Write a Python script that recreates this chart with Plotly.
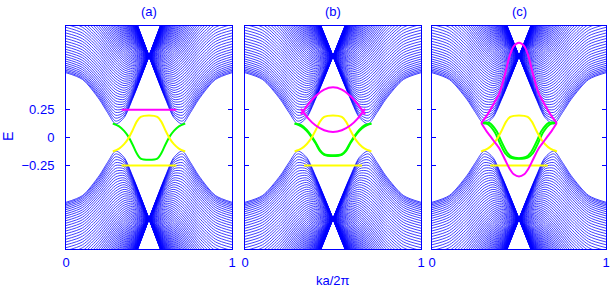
import plotly.graph_objects as go

# ---------------- data ----------------
# momentum samples on the left half of the zone (ka/2pi); the right half is the mirror image
K_HALF = [0.0, 0.1, 0.2, 0.25, 0.3, 0.35, 0.4, 0.45, 0.5]

# upper bulk sub-bands sampled on K_HALF (lower bulk bands are their mirror E -> -E)
BULK = [
    [2.014, 1.951, 1.768, 1.637, 1.483, 1.312, 1.125, 0.930, 0.73],
    [2.011, 1.948, 1.765, 1.634, 1.481, 1.310, 1.124, 0.929, 0.73],
    [2.008, 1.945, 1.762, 1.631, 1.478, 1.307, 1.122, 0.928, 0.73],
    [2.004, 1.941, 1.759, 1.628, 1.475, 1.304, 1.120, 0.926, 0.73],
    [1.999, 1.936, 1.754, 1.624, 1.471, 1.301, 1.117, 0.925, 0.73],
    [1.994, 1.931, 1.749, 1.619, 1.467, 1.297, 1.114, 0.923, 0.73],
    [1.988, 1.925, 1.744, 1.614, 1.463, 1.293, 1.111, 0.921, 0.73],
    [1.982, 1.919, 1.738, 1.609, 1.458, 1.289, 1.107, 0.919, 0.73],
    [1.975, 1.912, 1.732, 1.603, 1.452, 1.284, 1.104, 0.916, 0.73],
    [1.967, 1.905, 1.725, 1.596, 1.446, 1.279, 1.099, 0.914, 0.73],
    [1.959, 1.897, 1.718, 1.589, 1.440, 1.273, 1.095, 0.911, 0.73],
    [1.951, 1.889, 1.710, 1.582, 1.433, 1.267, 1.090, 0.908, 0.73],
    [1.941, 1.880, 1.701, 1.574, 1.425, 1.261, 1.085, 0.905, 0.73],
    [1.932, 1.870, 1.692, 1.565, 1.418, 1.254, 1.080, 0.902, 0.73],
    [1.921, 1.860, 1.683, 1.556, 1.409, 1.247, 1.074, 0.899, 0.73],
    [1.911, 1.850, 1.673, 1.547, 1.401, 1.239, 1.068, 0.895, 0.73],
    [1.899, 1.838, 1.662, 1.537, 1.392, 1.231, 1.062, 0.891, 0.73],
    [1.888, 1.827, 1.651, 1.527, 1.382, 1.223, 1.055, 0.887, 0.73],
    [1.875, 1.815, 1.640, 1.516, 1.372, 1.214, 1.049, 0.883, 0.73],
    [1.862, 1.802, 1.628, 1.505, 1.362, 1.205, 1.041, 0.879, 0.73],
    [1.849, 1.789, 1.616, 1.493, 1.351, 1.196, 1.034, 0.874, 0.73],
    [1.835, 1.775, 1.603, 1.481, 1.340, 1.186, 1.026, 0.870, 0.73],
    [1.820, 1.761, 1.589, 1.468, 1.328, 1.176, 1.018, 0.865, 0.73],
    [1.806, 1.746, 1.575, 1.455, 1.316, 1.166, 1.010, 0.860, 0.73],
    [1.790, 1.731, 1.561, 1.441, 1.304, 1.155, 1.002, 0.855, 0.73],
    [1.774, 1.715, 1.546, 1.427, 1.291, 1.143, 0.993, 0.850, 0.73],
    [1.758, 1.699, 1.531, 1.413, 1.278, 1.132, 0.984, 0.845, 0.73],
    [1.741, 1.683, 1.515, 1.398, 1.264, 1.120, 0.974, 0.839, 0.73],
    [1.724, 1.666, 1.499, 1.383, 1.250, 1.108, 0.965, 0.833, 0.73],
    [1.706, 1.648, 1.483, 1.367, 1.236, 1.095, 0.955, 0.828, 0.73],
    [1.687, 1.630, 1.466, 1.351, 1.221, 1.082, 0.945, 0.822, 0.73],
    [1.669, 1.612, 1.448, 1.334, 1.206, 1.069, 0.935, 0.816, 0.73],
    [1.650, 1.593, 1.430, 1.317, 1.190, 1.055, 0.924, 0.810, 0.73],
    [1.630, 1.574, 1.412, 1.300, 1.174, 1.042, 0.913, 0.803, 0.73],
    [1.610, 1.554, 1.394, 1.282, 1.158, 1.027, 0.902, 0.797, 0.73],
    [1.590, 1.534, 1.375, 1.264, 1.141, 1.013, 0.891, 0.791, 0.73],
    [1.569, 1.513, 1.355, 1.246, 1.124, 0.998, 0.880, 0.784, 0.73],
    [1.548, 1.492, 1.335, 1.227, 1.107, 0.983, 0.868, 0.778, 0.73],
    [1.526, 1.471, 1.315, 1.208, 1.089, 0.968, 0.856, 0.771, 0.73],
    [1.504, 1.450, 1.295, 1.188, 1.071, 0.952, 0.844, 0.764, 0.73],
    [1.482, 1.428, 1.274, 1.168, 1.053, 0.936, 0.832, 0.757, 0.73],
    [1.460, 1.405, 1.252, 1.148, 1.034, 0.920, 0.819, 0.750, 0.73],
    [1.437, 1.383, 1.231, 1.127, 1.015, 0.903, 0.807, 0.744, 0.73],
    [1.414, 1.360, 1.209, 1.106, 0.995, 0.886, 0.794, 0.737, 0.73],
    [1.390, 1.337, 1.187, 1.085, 0.976, 0.869, 0.781, 0.730, 0.73],
    [1.366, 1.313, 1.164, 1.064, 0.956, 0.852, 0.768, 0.722, 0.73],
    [1.342, 1.289, 1.141, 1.042, 0.936, 0.834, 0.755, 0.715, 0.73],
    [1.318, 1.265, 1.118, 1.020, 0.915, 0.817, 0.741, 0.708, 0.73],
    [1.293, 1.241, 1.094, 0.997, 0.894, 0.799, 0.728, 0.701, 0.73],
    [1.268, 1.216, 1.071, 0.974, 0.873, 0.780, 0.714, 0.694, 0.73],
    [1.244, 1.191, 1.047, 0.951, 0.852, 0.762, 0.701, 0.687, 0.73],
    [1.218, 1.166, 1.023, 0.928, 0.830, 0.743, 0.687, 0.680, 0.73],
    [1.193, 1.141, 0.998, 0.904, 0.808, 0.724, 0.673, 0.673, 0.73],
    [1.168, 1.116, 0.974, 0.881, 0.786, 0.705, 0.659, 0.666, 0.73],
    [1.142, 1.091, 0.949, 0.857, 0.764, 0.686, 0.645, 0.659, 0.73],
    [1.116, 1.065, 0.924, 0.832, 0.741, 0.667, 0.631, 0.652, 0.73],
    [1.091, 1.039, 0.898, 0.808, 0.718, 0.647, 0.617, 0.645, 0.73],
    [1.065, 1.014, 0.873, 0.783, 0.695, 0.627, 0.603, 0.638, 0.73],
    [1.039, 0.988, 0.848, 0.758, 0.672, 0.607, 0.589, 0.632, 0.73],
    [1.014, 0.962, 0.822, 0.733, 0.648, 0.587, 0.575, 0.625, 0.73],
    [0.988, 0.936, 0.796, 0.708, 0.625, 0.567, 0.561, 0.619, 0.73],
    [0.962, 0.911, 0.771, 0.683, 0.601, 0.547, 0.547, 0.612, 0.73],
    [0.937, 0.885, 0.745, 0.657, 0.577, 0.526, 0.533, 0.606, 0.73],
    [0.912, 0.860, 0.719, 0.632, 0.552, 0.506, 0.519, 0.600, 0.73],
    [0.887, 0.835, 0.693, 0.606, 0.528, 0.485, 0.506, 0.594, 0.73],
    [0.862, 0.810, 0.668, 0.581, 0.503, 0.465, 0.493, 0.588, 0.73],
    [0.838, 0.785, 0.642, 0.555, 0.479, 0.444, 0.479, 0.583, 0.73],
    [0.814, 0.761, 0.617, 0.529, 0.454, 0.423, 0.466, 0.578, 0.73],
    [0.790, 0.737, 0.592, 0.503, 0.429, 0.403, 0.454, 0.572, 0.73],
    [0.768, 0.714, 0.567, 0.478, 0.403, 0.382, 0.442, 0.568, 0.73],
    [0.746, 0.691, 0.542, 0.452, 0.378, 0.362, 0.430, 0.563, 0.73],
    [0.724, 0.669, 0.518, 0.427, 0.353, 0.341, 0.418, 0.558, 0.73],
    [0.703, 0.648, 0.495, 0.402, 0.327, 0.321, 0.407, 0.554, 0.73],
    [0.684, 0.627, 0.472, 0.377, 0.302, 0.301, 0.397, 0.550, 0.73],
    [0.665, 0.608, 0.450, 0.352, 0.276, 0.281, 0.387, 0.547, 0.73],
    [0.647, 0.589, 0.429, 0.328, 0.250, 0.262, 0.377, 0.544, 0.73],
    [0.631, 0.572, 0.409, 0.305, 0.225, 0.244, 0.369, 0.541, 0.73],
    [0.616, 0.557, 0.390, 0.283, 0.199, 0.225, 0.361, 0.538, 0.73],
    [0.603, 0.543, 0.373, 0.262, 0.173, 0.209, 0.354, 0.536, 0.73],
    [0.591, 0.530, 0.357, 0.242, 0.147, 0.192, 0.348, 0.533, 0.73],
    [0.581, 0.520, 0.343, 0.224, 0.122, 0.178, 0.342, 0.532, 0.73],
]

# in-gap states, left half (mirror-symmetric about ka/2pi = 0.5)
YEL_X = [0.282, 0.32, 0.35, 0.375, 0.40, 0.425, 0.45, 0.5]
YEL_E = [-0.125, -0.10, -0.06, -0.01, 0.06, 0.14, 0.185, 0.198]
GRN_A_E = [0.125, 0.10, 0.06, 0.01, -0.06, -0.14, -0.19, -0.20]
GRN_B_E = [0.125, 0.10, 0.06, 0.01, -0.05, -0.12, -0.155, -0.165]
GRN_B2_E = [0.125, 0.11, 0.07, 0.02, -0.04, -0.11, -0.15, -0.16]
FLAT_X = [0.335, 0.5]
MAG_A_E = [0.25, 0.25]
YEL_FLAT_E = [-0.25, -0.25]

MAG_B_X = [0.318, 0.36, 0.40, 0.45, 0.5]
MAG_B_UP = [0.207, 0.30, 0.37, 0.43, 0.45]
MAG_B_LO = [0.257, 0.17, 0.11, 0.065, 0.05]

MAG_C_X = [0.283, 0.312, 0.35, 0.388, 0.42, 0.446, 0.47, 0.5]
MAG_C_UP = [0.13, 0.19, 0.29, 0.40, 0.57, 0.73, 0.82, 0.85]
MAG_C_LO = [0.13, 0.06, -0.02, -0.10, -0.20, -0.28, -0.33, -0.35]
GRN_C1_X = [0.283, 0.32, 0.36, 0.39, 0.42, 0.45, 0.5]
GRN_C1_E = [0.13, 0.12, 0.05, -0.05, -0.14, -0.18, -0.19]
GRN_C2_X = [0.283, 0.33, 0.37, 0.40, 0.43, 0.46, 0.5]
GRN_C2_E = [0.13, 0.13, 0.06, -0.04, -0.13, -0.175, -0.185]

PANEL_TITLES = ["(a)", "(b)", "(c)"]
Y_TICKS = [-0.25, 0, 0.25]
Y_TICKTEXT = ["\u22120.25", "0", "0.25"]

# ---------------- layout geometry (pixels) ----------------
W, H = 614, 288
PANEL_PX = [(66, 232), (245, 421), (432, 606)]
TOP_PX, BOT_PX = 26, 249
BLUE = "#0000ff"
FONT = "Liberation Sans, Arial, sans-serif"


def mirror(xs, es):
    """Full symmetric curve from its left half."""
    x = list(xs) + [1 - v for v in reversed(xs[:-1])]
    e = list(es) + list(reversed(es[:-1]))
    return x, e


def bulk_lines():
    n = len(BULK)
    xs, ys = [], []
    kfull = K_HALF + [1 - v for v in reversed(K_HALF[:-1])]
    for sign in (1, -1):
        for i in range(n):
            e = BULK[i] + list(reversed(BULK[n - 1 - i][:-1]))
            xs += kfull + [None]
            ys += [sign * v for v in e] + [None]
    return xs, ys


fig = go.Figure()
bx, by = bulk_lines()


def add(p, x, y, color, width):
    fig.add_trace(go.Scatter(x=x, y=y, mode="lines",
                             line=dict(color=color, width=width, shape="spline", smoothing=0.8),
                             xaxis="x" if p == 0 else f"x{p+1}",
                             yaxis="y" if p == 0 else f"y{p+1}",
                             hoverinfo="skip", showlegend=False))


YELLOW, GREEN, MAGENTA = "#ffff00", "#00ff00", "#ff00ff"

for p in range(3):
    add(p, bx, by, BLUE, 0.75)

# panel (a)
add(0, *mirror(YEL_X, GRN_A_E), GREEN, 2)
add(0, *mirror(YEL_X, YEL_E), YELLOW, 2)
add(0, *mirror(FLAT_X, YEL_FLAT_E), YELLOW, 2)
add(0, *mirror(FLAT_X, MAG_A_E), MAGENTA, 2)
# panel (b)
add(1, *mirror(YEL_X, GRN_B_E), GREEN, 2)
add(1, *mirror(YEL_X, GRN_B2_E), GREEN, 2)
add(1, *mirror(YEL_X, YEL_E), YELLOW, 2)
add(1, *mirror(FLAT_X, YEL_FLAT_E), YELLOW, 2)
add(1, *mirror(MAG_B_X, MAG_B_UP), MAGENTA, 2)
add(1, *mirror(MAG_B_X, MAG_B_LO), MAGENTA, 2)
# panel (c)
add(2, *mirror(GRN_C1_X, GRN_C1_E), GREEN, 2)
add(2, *mirror(GRN_C2_X, GRN_C2_E), GREEN, 2)
add(2, *mirror(YEL_X, YEL_E), YELLOW, 2)
add(2, *mirror(FLAT_X, YEL_FLAT_E), YELLOW, 2)
add(2, *mirror(MAG_C_X, MAG_C_UP), MAGENTA, 2)
add(2, *mirror(MAG_C_X, MAG_C_LO), MAGENTA, 2)

layout = dict(width=W, height=H, margin=dict(l=0, r=0, t=0, b=0, autoexpand=False),
              paper_bgcolor="white", plot_bgcolor="white", showlegend=False,
              font=dict(family=FONT, color=BLUE, size=12))
ydom = [(H - BOT_PX) / H, (H - TOP_PX) / H]
annotations = []
for p, (l, r) in enumerate(PANEL_PX):
    xn = "xaxis" if p == 0 else f"xaxis{p+1}"
    yn = "yaxis" if p == 0 else f"yaxis{p+1}"
    layout[xn] = dict(domain=[l / W, r / W], range=[0, 1], tickvals=[0, 1], ticktext=["0", "1"],
                      ticks="inside", ticklen=4, tickcolor=BLUE, showline=True, linecolor=BLUE,
                      linewidth=1, mirror="ticks", showgrid=False, zeroline=False,
                      tickfont=dict(size=13, color=BLUE, family=FONT), ticklabelstandoff=1,
                      automargin=False,
                      anchor="y" if p == 0 else f"y{p+1}", fixedrange=True)
    layout[yn] = dict(domain=ydom, range=[-1, 1], tickvals=Y_TICKS, ticktext=Y_TICKTEXT,
                      ticks="inside", ticklen=4, tickcolor=BLUE, showline=True, linecolor=BLUE,
                      linewidth=1, mirror="ticks", showgrid=False, zeroline=False,
                      showticklabels=(p == 0), tickfont=dict(size=13, color=BLUE, family=FONT),
                      ticklabelstandoff=8, automargin=False,
                      anchor="x" if p == 0 else f"x{p+1}", fixedrange=True)
    annotations.append(dict(text=PANEL_TITLES[p], x=(l + r) / 2 / W, y=(H - 12) / H,
                            xref="paper", yref="paper", xanchor="center", yanchor="middle",
                            showarrow=False, font=dict(size=13, color=BLUE, family=FONT)))
annotations.append(dict(text="ka/2\u03c0", x=333 / W, y=(H - 280) / H, xref="paper", yref="paper",
                        xanchor="center", yanchor="middle",
                        showarrow=False, font=dict(size=13, color=BLUE, family=FONT)))
annotations.append(dict(text="E", x=8 / W, y=(H - 137) / H, xref="paper", yref="paper",
                        xanchor="center", yanchor="middle",
                        showarrow=False, textangle=-90, font=dict(size=14, color=BLUE, family=FONT)))
layout["annotations"] = annotations
fig.update_layout(**layout)
fig.write_html("out.html", config={"displayModeBar": False},
               post_script="document.body.style.margin='0px';document.body.style.padding='0px';")
